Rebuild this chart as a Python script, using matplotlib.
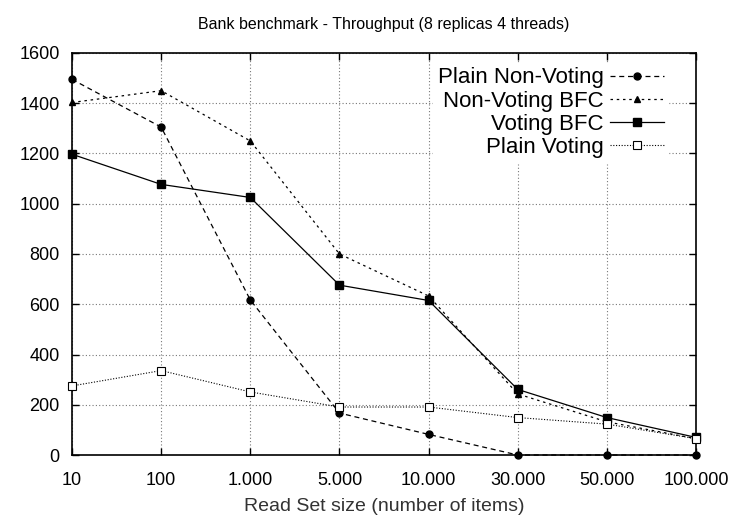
import matplotlib
matplotlib.use("Agg")
import matplotlib.pyplot as plt

plt.rcParams['font.family'] = ['Liberation Sans', 'DejaVu Sans']

# data
read_set = ["10", "100", "1.000", "5.000", "10.000", "30.000", "50.000", "100.000"]
plain_nonvoting = [1495, 1305, 617, 167, 82, 0, 0, 0]
nonvoting_bfc = [1403, 1450, 1250, 800, 633, 243, 132, 65]
voting_bfc = [1197, 1077, 1025, 676, 615, 261, 149, 70]
plain_voting = [275, 336, 251, 191, 191, 149, 123, 65]

x = range(len(read_set))

fig = plt.figure(figsize=(7.35, 5.19), dpi=100)
ax = fig.add_axes([0.098, 0.1233, 0.849, 0.7746])

ax.plot(x, plain_nonvoting, color='black', lw=0.9, ls=(0, (4, 3)), marker='o', ms=5,
        label='Plain Non-Voting', clip_on=False, zorder=5)
ax.plot(x, nonvoting_bfc, color='black', lw=0.9, ls=(0, (2, 3)), marker='^', ms=4.5,
        label='Non-Voting BFC', clip_on=False, zorder=5)
ax.plot(x, voting_bfc, color='black', lw=0.9, ls='-', marker='s', ms=6,
        label='Voting BFC', clip_on=False, zorder=5)
ax.plot(x, plain_voting, color='black', lw=0.8, ls=(0, (1, 1.5)), marker='s', ms=6,
        mfc='white', mec='black', mew=0.8, label='Plain Voting', clip_on=False, zorder=5)

ax.set_xlim(0, len(read_set) - 1)
ax.set_ylim(0, 1600)
ax.set_xticks(list(x))
ax.set_xticklabels(read_set)
ax.set_yticks(range(0, 1601, 200))

ax.tick_params(direction='in', length=5, width=1, labelsize=13, top=True, right=True)
ax.tick_params(axis='x', pad=12)
ax.tick_params(axis='y', pad=9)
ax.grid(True, color='#777777', ls=(0, (1, 2)), lw=0.8)
for s in ax.spines.values():
    s.set_linewidth(1.2)

ax.set_xlabel('Read Set size (number of items)', fontsize=14, color='#333333', labelpad=7)
ax.set_title('Bank benchmark - Throughput (8 replicas 4 threads)', fontsize=11.5, pad=17)

leg = ax.legend(loc='upper right', markerfirst=False, frameon=True, fontsize=16,
                handlelength=2.4, handletextpad=0.3, labelspacing=0.1,
                borderaxespad=0.0, borderpad=0.2, bbox_to_anchor=(0.955, 0.975),
                fancybox=False, edgecolor='white', framealpha=1)
for t in leg.get_texts():
    t.set_ha('right')
leg._legend_box.align = 'right'

fig.savefig('out.png', dpi=100)
